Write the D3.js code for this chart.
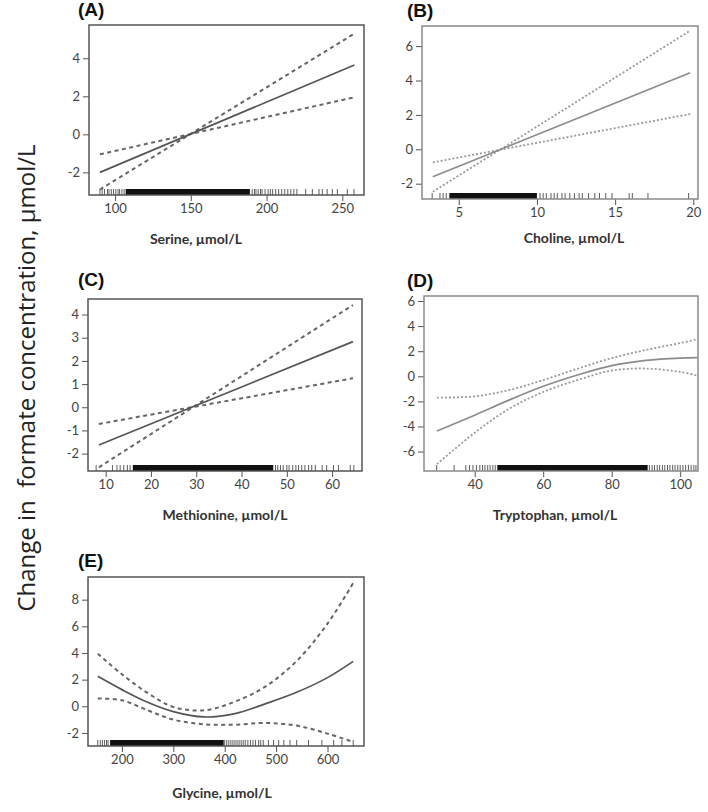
<!DOCTYPE html>
<html>
<head>
<meta charset="utf-8">
<script src="https://cdn.jsdelivr.net/npm/d3@7"></script>
<style>
  body { margin: 0; background: #fff; }
  svg { display: block; }
  .tick text { font-family: Lato, "Open Sans", sans-serif; font-size: 13px; fill: #444; }
  .tick line { stroke: #555; }
</style>
</head>
<body>
<div id="chart"></div>
<script>
// ---- data ----

// (A) serine
const serineX     = [90, 258];
const serineFit   = [-2.0, 3.65];
const serineUpper = [-2.9, 5.3];
const serineLower = [-1.05, 1.95];
const serineRugDense = [[107, 189]];
const serineRug = [90, 91.5, 93, 95, 96, 97.5, 99, 100.5, 102, 103, 104.5, 106, 190.5, 192, 193, 194.5, 196, 197, 199, 201, 202.5, 204, 206, 208, 210, 212, 214, 216, 218, 220, 225.8, 230.2, 234.6, 236.8, 240, 243.4, 246.7, 253.3, 257.7];
const serineXTicks = [100, 150, 200, 250];
const serineYTicks = [-2, 0, 2, 4];

// (B) choline
const cholineX     = [3.34, 19.8];
const cholineFit   = [-1.6, 4.45];
const cholineUpper = [-2.47, 6.9];
const cholineLower = [-0.76, 2.05];
const cholineRugDense = [[4.4, 10]];
const cholineRug = [3.3, 3.8, 4.0, 4.2, 10.2, 10.4, 10.6, 10.9, 11.1, 11.3, 11.6, 11.8, 12.1, 12.4, 12.7, 12.9, 13.3, 13.7, 14.0, 14.4, 14.8, 15.9, 16.1, 17.1, 19.7];
const cholineXTicks = [5, 10, 15, 20];
const cholineYTicks = [-2, 0, 2, 4, 6];

// (C) methionine
const methionineX     = [8.5, 64.6];
const methionineFit   = [-1.63, 2.83];
const methionineUpper = [-2.59, 4.41];
const methionineLower = [-0.72, 1.25];
const methionineRugDense = [[16, 47]];
const methionineRug = [7.9, 11.5, 12.5, 13.2, 14, 14.8, 15.4, 47.5, 48, 48.6, 49.2, 50, 50.5, 51.3, 52, 52.6, 53.3, 54, 54.8, 55.5, 56.3, 57.8, 58.8, 60.3, 61.4, 64, 64.8];
const methionineXTicks = [10, 20, 30, 40, 50, 60];
const methionineYTicks = [-2, -1, 0, 1, 2, 3, 4];

// (D) tryptophan
const tryptophanX     = [29, 40, 50, 60, 70, 80, 90, 100, 105];
const tryptophanFit   = [-4.36, -3.1, -1.9, -0.8, 0.1, 0.85, 1.27, 1.45, 1.48];
const tryptophanUpper = [-1.7, -1.6, -1.1, -0.3, 0.6, 1.45, 2.1, 2.65, 2.95];
const tryptophanLower = [-7.0, -4.5, -2.6, -1.25, -0.3, 0.45, 0.62, 0.35, 0.05];
const tryptophanRugDense = [[46.6, 90.5]];
const tryptophanRug = [28.9, 34, 37.4, 38.5, 39.5, 40.5, 41.5, 42.3, 43, 43.8, 44.5, 45.3, 46, 91, 91.8, 92.5, 93.3, 94, 94.8, 95.5, 96.3, 97, 97.8, 98.5, 99.3, 100, 100.8, 101.6, 102.4, 103.2, 104, 104.6];
const tryptophanXTicks = [40, 60, 80, 100];
const tryptophanYTicks = [-6, -4, -2, 0, 2, 4, 6];

// (E) glycine
const glycineX     = [153, 200, 250, 300, 360, 420, 480, 540, 600, 650];
const glycineFit   = [2.25, 1.25, 0.3, -0.4, -0.8, -0.55, 0.2, 1.05, 2.15, 3.37];
const glycineUpper = [3.95, 2.4, 1.0, -0.05, -0.3, 0.35, 1.5, 3.4, 6.2, 9.25];
const glycineLower = [0.58, 0.45, -0.3, -1.0, -1.35, -1.38, -1.25, -1.45, -2.05, -2.68];
const glycineRugDense = [[177, 398]];
const glycineRug = [153, 158, 162, 166, 170, 173, 400, 404, 408, 412, 416, 420, 424, 428, 432, 436, 440, 445, 450, 455, 460, 466, 470, 475, 485, 495, 505, 515, 527, 540, 563, 589, 612, 628, 650];
const glycineXTicks = [200, 300, 400, 500, 600];
const glycineYTicks = [-2, 0, 2, 4, 6, 8];

const yTitle = "Change in  formate concentration, µmol/L";

// ---- layout ----
const width = 708, height = 812;

const dark  = {line: "#555", band: "#666", frame: "#555", dash: "4,3.5", bw: 2};
const light = {line: "#8c8c8c", band: "#9a9a9a", frame: "#8a8a8a", dash: "2,2", bw: 1.8};

const panels = [
  {label: "(A)", title: "Serine, µmol/L", frame: {l: 89, t: 25, r: 364, b: 195},
   xDom: [82.8, 264.3], yDom: [-3.19, 5.75], labelPos: [78, 16], titlePos: [196, 244], st: dark,
   x: serineX, fit: serineFit, up: serineUpper, lo: serineLower,
   rug: serineRug, dense: serineRugDense, xt: serineXTicks, yt: serineYTicks},
  {label: "(B)", title: "Choline, µmol/L", frame: {l: 422, t: 26, r: 698, b: 199},
   xDom: [2.65, 20.3], yDom: [-2.89, 7.17], labelPos: [407, 17], titlePos: [574, 243], st: light,
   x: cholineX, fit: cholineFit, up: cholineUpper, lo: cholineLower,
   rug: cholineRug, dense: cholineRugDense, xt: cholineXTicks, yt: cholineYTicks},
  {label: "(C)", title: "Methionine, µmol/L", frame: {l: 88, t: 299, r: 362, b: 471},
   xDom: [6.1, 66.6], yDom: [-2.75, 4.67], labelPos: [78, 286], titlePos: [225, 520], st: dark,
   x: methionineX, fit: methionineFit, up: methionineUpper, lo: methionineLower,
   rug: methionineRug, dense: methionineRugDense, xt: methionineXTicks, yt: methionineYTicks},
  {label: "(D)", title: "Tryptophan, µmol/L", frame: {l: 424, t: 296, r: 698, b: 471},
   xDom: [25.2, 105.2], yDom: [-7.55, 6.4], labelPos: [407, 287], titlePos: [555, 520], st: light,
   x: tryptophanX, fit: tryptophanFit, up: tryptophanUpper, lo: tryptophanLower,
   rug: tryptophanRug, dense: tryptophanRugDense, xt: tryptophanXTicks, yt: tryptophanYTicks},
  {label: "(E)", title: "Glycine, µmol/L", frame: {l: 88, t: 577, r: 364, b: 746},
   xDom: [134, 671], yDom: [-2.98, 9.7], labelPos: [78, 567], titlePos: [222, 798], st: dark,
   x: glycineX, fit: glycineFit, up: glycineUpper, lo: glycineLower,
   rug: glycineRug, dense: glycineRugDense, xt: glycineXTicks, yt: glycineYTicks}
];

const svg = d3.select("#chart").append("svg")
    .attr("width", width)
    .attr("height", height);

// big shared y title
svg.append("text")
    .attr("transform", "translate(35,378) rotate(-90)")
    .attr("text-anchor", "middle")
    .style("white-space", "pre")
    .style("font-family", "'Open Sans', sans-serif")
    .style("font-size", "24px")
    .style("font-weight", 500)
    .style("fill", "#222")
    .text(yTitle);

panels.forEach(p => {
    const f = p.frame;
    const x = d3.scaleLinear().domain(p.xDom).range([f.l, f.r]);
    const y = d3.scaleLinear().domain(p.yDom).range([f.b, f.t]);
    const g = svg.append("g");

    // rug: dense stretches, then single ticks
    g.selectAll(".dense").data(p.dense).enter().append("rect")
        .attr("x", d => x(d[0]))
        .attr("width", d => x(d[1]) - x(d[0]))
        .attr("y", f.b - 6)
        .attr("height", 6)
        .attr("fill", "#111");

    g.selectAll(".rug").data(p.rug).enter().append("line")
        .attr("x1", d => x(d)).attr("x2", d => x(d))
        .attr("y1", f.b - 6).attr("y2", f.b)
        .attr("stroke", "#333")
        .attr("stroke-width", 0.8);

    // curves
    const pts = arr => p.x.map((v, i) => [v, arr[i]]);
    const line = d3.line()
        .x(d => x(d[0]))
        .y(d => y(d[1]))
        .curve(d3.curveCatmullRom.alpha(0.5));

    [p.up, p.lo].forEach(arr => {
        g.append("path")
            .attr("d", line(pts(arr)))
            .attr("fill", "none")
            .attr("stroke", p.st.band)
            .attr("stroke-width", p.st.bw)
            .attr("stroke-dasharray", p.st.dash);
    });

    g.append("path")
        .attr("d", line(pts(p.fit)))
        .attr("fill", "none")
        .attr("stroke", p.st.line)
        .attr("stroke-width", 1.7);

    // axes
    const xAxis = d3.axisBottom(x).tickValues(p.xt).tickSize(6).tickSizeOuter(0).tickPadding(3)
        .tickFormat(d => String(d));
    const yAxis = d3.axisLeft(y).tickValues(p.yt).tickSize(6).tickSizeOuter(0).tickPadding(3)
        .tickFormat(d => String(d));

    const gx = g.append("g").attr("transform", `translate(0,${f.b})`).call(xAxis);
    const gy = g.append("g").attr("transform", `translate(${f.l},0)`).call(yAxis);
    gx.select(".domain").remove();
    gy.select(".domain").remove();
    gx.selectAll(".tick line").attr("stroke", p.st.frame);
    gy.selectAll(".tick line").attr("stroke", p.st.frame);

    // frame
    g.append("rect")
        .attr("x", f.l).attr("y", f.t)
        .attr("width", f.r - f.l).attr("height", f.b - f.t)
        .attr("fill", "none")
        .attr("stroke", p.st.frame)
        .attr("stroke-width", 1.5);

    // panel label and x title
    g.append("text")
        .attr("x", p.labelPos[0]).attr("y", p.labelPos[1])
        .style("font-family", "'Liberation Sans', Arial, sans-serif")
        .style("font-weight", "bold")
        .style("font-size", "19px")
        .style("fill", "#111")
        .text(p.label);

    g.append("text")
        .attr("x", p.titlePos[0]).attr("y", p.titlePos[1])
        .attr("text-anchor", "middle")
        .style("font-family", "Lato, sans-serif")
        .style("font-weight", "bold")
        .style("font-size", "14px")
        .style("fill", "#333")
        .text(p.title);
});
</script>
</body>
</html>
